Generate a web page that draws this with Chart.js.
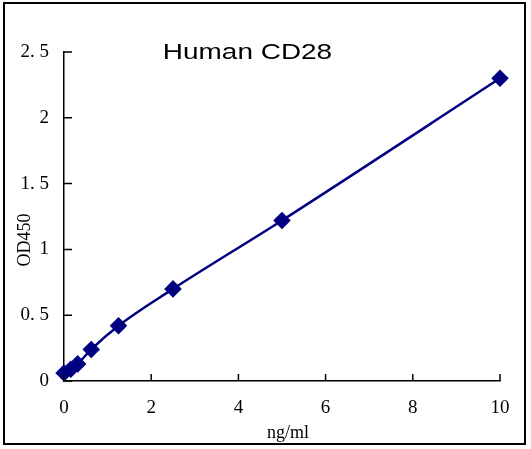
<!DOCTYPE html>
<html>
<head>
<meta charset="utf-8">
<script src="https://cdn.jsdelivr.net/npm/chart.js@4"></script>
<style>
html,body{margin:0;padding:0;background:#fff;}
#wrap{width:531px;height:449px;position:relative;}
</style>
</head>
<body>
<div id="wrap"><canvas id="c" width="531" height="449"></canvas></div>
<script>
const concentrations = [0, 0.156, 0.3125, 0.625, 1.25, 2.5, 5, 10];
const od450 = [0.06, 0.09, 0.13, 0.24, 0.42, 0.70, 1.22, 2.30];
const xTicks = [0, 2, 4, 6, 8, 10];
const yTicks = [0, 0.5, 1, 1.5, 2, 2.5];
const yTickLabels = ['0', '0. 5', '1', '1. 5', '2', '2. 5'];
const chartTitle = 'Human CD28';
const xTitle = 'ng/ml';
const yTitle = 'OD450';

const serif = '"Liberation Serif", "DejaVu Serif", serif';

const decor = {
  id: 'decor',
  beforeDraw(chart) {
    const ctx = chart.ctx;
    ctx.save();
    ctx.fillStyle = '#fff';
    ctx.fillRect(0, 0, chart.width, chart.height);
    ctx.strokeStyle = '#000';
    ctx.lineWidth = 2;
    ctx.strokeRect(4, 3, 521, 441);
    ctx.restore();
  },
  afterDraw(chart) {
    const ctx = chart.ctx;
    const xs = chart.scales.x, ys = chart.scales.y;
    ctx.save();
    ctx.strokeStyle = '#000';
    ctx.lineWidth = 1.5;
    ctx.beginPath();
    ys.ticks.forEach(t => {
      const py = ys.getPixelForValue(t.value);
      ctx.moveTo(xs.left, py); ctx.lineTo(xs.left + 8, py);
    });
    xs.ticks.forEach(t => {
      const px = xs.getPixelForValue(t.value);
      ctx.moveTo(px, ys.bottom); ctx.lineTo(px, ys.bottom - 7);
    });
    ctx.stroke();
    ctx.fillStyle = '#000';
    ctx.font = '22px "Liberation Sans", Arial, sans-serif';
    ctx.textAlign = 'center';
    ctx.textBaseline = 'middle';
    ctx.translate(247.5, 53);
    ctx.scale(1.27, 1);
    ctx.fillText(chartTitle, 0, 0);
    ctx.restore();
    ctx.save();
    ctx.fillStyle = '#000';
    ctx.font = '18px ' + serif;
    ctx.textAlign = 'center';
    ctx.textBaseline = 'middle';
    ctx.fillText(xTitle, 288, 433);
    ctx.translate(25, 240);
    ctx.rotate(-Math.PI / 2);
    ctx.fillText(yTitle, 0, 0);
    ctx.restore();
  }
};

new Chart(document.getElementById('c'), {
  type: 'line',
  data: {
    datasets: [{
      data: concentrations.map((x, i) => ({x: x, y: od450[i]})),
      borderColor: '#000080',
      backgroundColor: '#000080',
      borderWidth: 2.5,
      pointStyle: 'rectRot',
      pointRadius: 7,
      pointHoverRadius: 7,
      cubicInterpolationMode: 'monotone',
      clip: false
    }]
  },
  options: {
    responsive: false,
    animation: false,
    events: [],
    layout: {padding: {left: 0, top: 52, right: 31, bottom: 0}},
    plugins: {legend: {display: false}, tooltip: {enabled: false}, title: {display: false}},
    scales: {
      x: {
        type: 'linear', min: 0, max: 10,
        afterBuildTicks: s => { s.ticks = xTicks.map(v => ({value: v})); },
        afterFit: s => { s.height = 68; },
        grid: {display: false, drawTicks: false},
        border: {display: true, color: '#000', width: 1.5},
        ticks: {color: '#000', font: {family: serif, size: 19}, padding: 16, maxRotation: 0,
          callback: v => String(v)}
      },
      y: {
        type: 'linear', min: 0, max: 2.5,
        afterBuildTicks: s => { s.ticks = yTicks.map(v => ({value: v})); },
        afterFit: s => { s.width = 64; },
        grid: {display: false, drawTicks: false},
        border: {display: true, color: '#000', width: 1.5},
        ticks: {color: '#000', font: {family: serif, size: 19}, padding: 15,
          callback: v => yTickLabels[yTicks.indexOf(v)]}
      }
    }
  },
  plugins: [decor]
});
</script>
</body>
</html>
